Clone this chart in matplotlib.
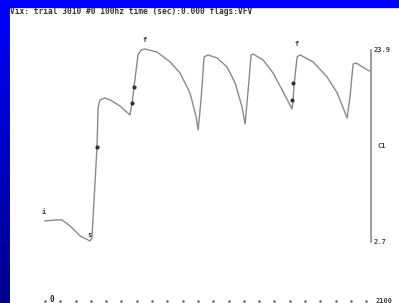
import matplotlib
matplotlib.use("Agg")
import matplotlib.pyplot as plt
import numpy as np

# trace C1 (time in ms, value)
t = [0, 66, 112, 164, 230, 282, 294, 307, 340, 347, 360, 392, 425, 490, 556,
     569, 582, 608, 628, 654, 732, 818, 883, 948, 988, 1001,
     1020, 1040, 1066, 1125, 1190, 1243, 1288, 1308,
     1328, 1347, 1360, 1426, 1491, 1557, 1615,
     1622, 1628, 1648, 1668, 1753, 1844, 1910, 1975,
     1995, 2014, 2034, 2119]
v = [5.02, 5.13, 5.13, 4.47, 3.36, 2.92, 2.81, 3.14, 13.19, 17.50, 18.38, 18.60,
     18.38, 17.72, 16.72,
     18.05, 19.81, 23.35, 23.90, 24.01, 23.68, 22.58, 21.36, 19.15, 16.50, 15.07,
     18.38, 23.13, 23.35, 23.02, 22.02, 20.25, 17.60, 15.73,
     19.48, 23.35, 23.46, 22.79, 21.36, 19.26, 17.39,
     18.49, 20.04, 23.13, 23.35, 22.58, 20.92, 19.15, 16.39,
     18.93, 22.35, 22.46, 21.58]

mark_t = [340, 569, 582, 1615, 1622]
mark_v = [13.2, 18.05, 19.8, 18.4, 20.3]
labels = [("i", -6, 6.0), ("s", 288, 3.5), ("f", 654, 25.0), ("f", 1647, 24.6)]

ymin, ymax = 2.7, 23.9
tick_t = np.arange(0, 2101, 100)
title = "Vix: trial 3010 #0 100hz time (sec):0.000 flags:VFV"

fig = plt.figure(figsize=(3.99, 3.03), dpi=100)
fig.patch.set_facecolor("white")

ax = fig.add_axes([0, 0, 1, 1])
ax.set_xlim(-294, 2314)
ax.set_ylim(-4.04, 29.42)
ax.axis("off")

ax.plot(t, v, color="#8a8a8a", lw=1.0)
ax.plot(mark_t, mark_v, "o", color="#333333", ms=2.0)
for s, x, y in labels:
    ax.text(x, y, s, fontsize=5, family="DejaVu Sans Mono", fontweight="bold",
            color="#333333", ha="center", va="center")

# right scale
ax.plot([2131, 2131], [ymin, ymax], color="#8a8a8a", lw=1.2)
ax.text(2150, ymax, "%.1f" % ymax, fontsize=5, family="DejaVu Sans Mono",
        fontweight="bold", color="#444444", va="center")
ax.text(2150, ymin, "%.1f" % ymin, fontsize=5, family="DejaVu Sans Mono",
        fontweight="bold", color="#444444", va="center")
ax.text(2176, 13.3, "C1", fontsize=5, family="DejaVu Sans Mono",
        fontweight="bold", color="#444444", va="center")

# time ticks
ax.plot(tick_t, np.full(len(tick_t), -3.8), ".", color="#555555", ms=1.5)
ax.text(46, -3.6, "0", fontsize=5.5, family="DejaVu Sans Mono",
        fontweight="bold", color="#222222", ha="center", va="center")
ax.text(2160, -3.8, "2100", fontsize=5, family="DejaVu Sans Mono",
        fontweight="bold", color="#444444", va="center")

# blue frame
bar = fig.add_axes([0, 0, 10 / 399, 1])
grad = np.linspace(1.0, 0.55, 256).reshape(-1, 1)
img = np.zeros((256, 1, 3))
img[:, :, 2] = grad
bar.imshow(img, aspect="auto", extent=[0, 1, 0, 1])
bar.axis("off")
fig.patches.append(plt.Rectangle((0, 1 - 7 / 303), 1, 7 / 303, transform=fig.transFigure,
                                 color=(0, 0, 1), zorder=5))

fig.text(10 / 399, 1 - 11 / 303, title, fontsize=5.7, family="DejaVu Sans Mono",
         fontweight="bold", color="#333333", va="center")

fig.savefig("out.png", dpi=100)
